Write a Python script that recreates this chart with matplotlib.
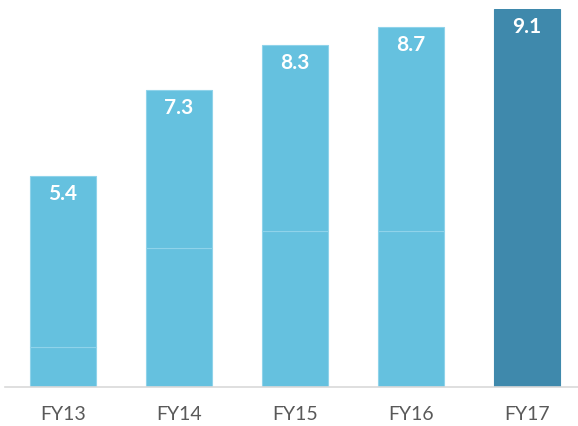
import matplotlib.pyplot as plt

years = ["FY13", "FY14", "FY15", "FY16", "FY17"]
values = [5.4, 7.3, 8.3, 8.7, 9.1]
# lower stacked segment (in each bar)
lower = [1.63, 3.82, 4.2, 4.2, 0.0]

light = "#65c1df"
dark = "#3f89ac"

plt.rcParams["font.family"] = ["Lato", "DejaVu Sans"]

fig = plt.figure(figsize=(5.78, 4.27), dpi=100)
ax = fig.add_axes([5 / 578, 39 / 427, 573 / 578, 378 / 427])

x = list(range(len(years)))
colors = [light] * 4 + [dark]
edge = ["#8fd3ea"] * 4 + [dark]

for i in x:
    if lower[i] > 0:
        ax.bar(i, lower[i], width=0.57, color=colors[i], edgecolor=edge[i], linewidth=0.8)
        ax.bar(i, values[i] - lower[i], bottom=lower[i], width=0.57,
               color=colors[i], edgecolor=edge[i], linewidth=0.8)
    else:
        ax.bar(i, values[i], width=0.57, color=colors[i], edgecolor=edge[i], linewidth=0.8)
    ax.text(i, values[i] - 0.37, f"{values[i]:.1f}", ha="center", va="center",
            color="white", fontsize=15, fontweight="bold")

ax.set_xlim(-0.5, 4.44)
ax.set_ylim(0.75, 9.1)
ax.set_xticks(x)
ax.set_xticklabels(years, fontsize=14, color="#595959")
ax.tick_params(axis="x", length=0, pad=13)
ax.set_yticks([])
for side in ["top", "right", "left"]:
    ax.spines[side].set_visible(False)
ax.spines["bottom"].set_color("#d9d9d9")
ax.spines["bottom"].set_linewidth(1.2)

fig.savefig("out.png", dpi=100)
